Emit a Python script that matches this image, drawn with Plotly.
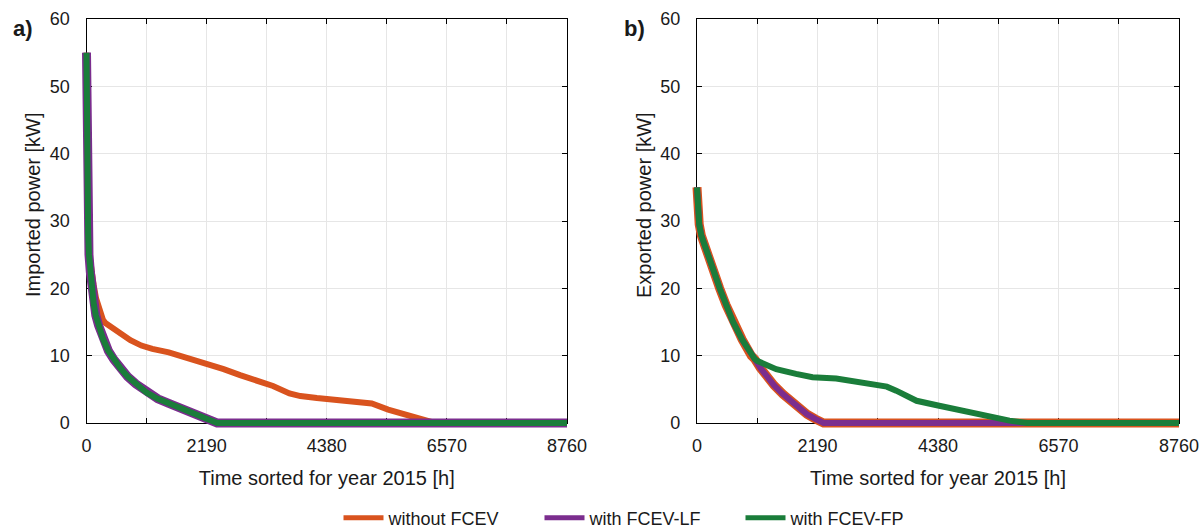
import plotly.graph_objects as go

# ---------------- data ----------------
hours_imp_without = [0, 5, 12, 20, 30, 45, 65, 95, 130, 175, 230, 300, 350, 450, 600, 800,
                     1000, 1200, 1500, 1800, 2190, 2500, 2800, 3100, 3400, 3700, 3900, 4200,
                     4600, 5000, 5200, 5500, 5900, 6200, 6350, 8760]
imp_without = [55, 45, 38, 32, 28, 25.5, 23.8, 22.2, 20.5, 18.5, 16.8, 15.3, 14.8, 14.2, 13.4, 12.3,
               11.5, 11.0, 10.5, 9.8, 8.8, 8.0, 7.1, 6.4, 5.5, 4.4, 4.0, 3.7,
               3.3, 3.1, 2.9, 2.0, 1.0, 0.3, 0, 0]

hours_imp_fcev = [0, 5, 12, 20, 30, 45, 70, 100, 130, 170, 220, 300, 400, 500, 620, 750,
                  900, 1100, 1300, 1500, 1700, 1900, 2100, 2250, 2380, 8760]
imp_lf = [55, 45, 38, 32, 28, 25, 22.4, 20, 17.8, 16, 14.5, 12.5, 10.7, 9.4, 8.1, 6.9,
          5.8, 4.5, 3.6, 2.9, 2.2, 1.6, 1.0, 0.5, 0, 0]
imp_fp = [55, 45, 38, 32, 28, 25, 22.4, 20, 17.8, 16, 14.5, 12.5, 10.7, 9.4, 8.1, 6.9,
          5.8, 4.5, 3.6, 2.9, 2.2, 1.6, 1.0, 0.5, 0, 0]

hours_exp_base = [0, 15, 40, 80, 150, 290, 412, 530, 655, 820, 988, 1050, 1150, 1260, 1400,
                  1560, 1720, 1870, 2000, 2150, 2300, 8760]
exp_without = [35, 32, 29.5, 27.8, 26, 22.9, 20, 17.5, 15, 12.4, 10, 9.5, 8.2, 7.0, 5.6,
               4.3, 3.1, 2.1, 1.3, 0.6, 0, 0]
exp_lf = [35, 32, 29.5, 27.8, 26, 22.9, 20, 17.5, 15, 12.4, 10, 9.5, 8.2, 7.0, 5.6,
          4.3, 3.1, 2.1, 1.3, 0.6, 0, 0]

hours_exp_fp = [0, 15, 40, 80, 150, 290, 412, 530, 655, 820, 988, 1050, 1100, 1300, 1440,
                1800, 2100, 2530, 2800, 3020, 3290, 3450, 3620, 3800, 3990, 4380, 4900,
                5320, 5680, 6000, 8760]
exp_fp = [35, 32, 29.5, 27.8, 26, 22.9, 20, 17.5, 15, 12.4, 10, 9.5, 9.2, 8.5, 8.0,
          7.3, 6.8, 6.6, 6.3, 6.0, 5.8, 5.4, 4.8, 4.0, 3.3, 2.6, 1.7,
          0.85, 0.35, 0, 0]

series_names = ["without FCEV", "with FCEV-LF", "with FCEV-FP"]
x_tickvals = [0, 1095, 2190, 3285, 4380, 5475, 6570, 7665, 8760]
x_ticktext = ["0", "", "2190", "", "4380", "", "6570", "", "8760"]
y_tickvals = [0, 10, 20, 30, 40, 50, 60]
y_titles = ["Imported power [kW]", "Exported power [kW]"]
panel_labels = ["a)", "b)"]

# ---------------- styling / geometry ----------------
W, H = 1201, 530
COL = {"without FCEV": "#D9531E", "with FCEV-LF": "#7B2D8E", "with FCEV-FP": "#1A7D3A"}
FONT = "Liberation Sans, Arial, sans-serif"
TXT = "#1a1a1a"
FS_TICK = 18
FS_TITLE = 20
FS_LEG = 18

PANELS = [(86.5, 567.0), (697.0, 1179.0)]
TOP, BOT = 19.0, 423.0
EXT = 8.0  # extra pixels so thick lines are not clipped at the axes
YTITLE_X = [33.0, 644.0]
YTITLE_Y = 205.0
LABEL_POS = [(22.5, 29.0), (634.0, 29.0)]

XMAX, YMAX = 8760, 60


def px_x(p):
    return p / W


def px_y(p):
    return 1 - p / H


fig = go.Figure()

axis_common = dict(
    showline=True, linecolor="black", linewidth=1.3, mirror="allticks",
    ticks="inside", ticklen=5, tickcolor="black", tickwidth=1.3,
    showgrid=True, gridcolor="#E6E6E6", gridwidth=1, zeroline=False,
    tickfont=dict(family=FONT, size=FS_TICK, color=TXT),
    fixedrange=True, automargin=False,
)

for i, (xl, xr) in enumerate(PANELS):
    sfx = "" if i == 0 else "2"
    fig.layout["xaxis" + sfx] = dict(
        axis_common, domain=[px_x(xl), px_x(xr)], range=[0, XMAX],
        tickmode="array", tickvals=x_tickvals, ticktext=x_ticktext,
        anchor="y" + sfx, ticklabelstandoff=6,
        title=dict(text="Time sorted for year 2015 [h]",
                   font=dict(family=FONT, size=FS_TITLE, color=TXT), standoff=16),
    )
    fig.layout["yaxis" + sfx] = dict(
        axis_common, domain=[px_y(BOT), px_y(TOP)], range=[0, YMAX],
        tickmode="array", tickvals=y_tickvals,
        anchor="x" + sfx, ticklabelstandoff=12,
    )
    # hidden data axes, with slightly larger domain so the thick lines are not clipped
    dsfx = "3" if i == 0 else "4"
    xspan = xr - xl
    yspan = BOT - TOP
    fig.layout["xaxis" + dsfx] = dict(
        domain=[px_x(xl - EXT), px_x(xr)], range=[-EXT * XMAX / xspan, XMAX],
        visible=False, anchor="y" + dsfx, fixedrange=True, automargin=False,
    )
    fig.layout["yaxis" + dsfx] = dict(
        domain=[px_y(BOT + EXT), px_y(TOP)], range=[-EXT * YMAX / yspan, YMAX],
        visible=False, anchor="x" + dsfx, fixedrange=True, automargin=False,
    )
    fig.add_annotation(text=y_titles[i], xref="paper", yref="paper",
                       x=px_x(YTITLE_X[i]), y=px_y(YTITLE_Y), xanchor="center", yanchor="middle",
                       textangle=-90, showarrow=False,
                       font=dict(family=FONT, size=FS_TITLE, color=TXT))
    lx, ly = LABEL_POS[i]
    fig.add_annotation(text="<b>" + panel_labels[i] + "</b>", xref="paper", yref="paper",
                       x=px_x(lx), y=px_y(ly), xanchor="center", yanchor="middle",
                       showarrow=False, font=dict(family=FONT, size=22, color=TXT))

# anchor traces to make main subplots exist
fig.add_trace(go.Scatter(x=[None], y=[None], xaxis="x", yaxis="y", showlegend=False, hoverinfo="skip"))
fig.add_trace(go.Scatter(x=[None], y=[None], xaxis="x2", yaxis="y2", showlegend=False, hoverinfo="skip"))

# panel a) imported
left_series = [
    ("without FCEV", hours_imp_without, imp_without, 6),
    ("with FCEV-LF", hours_imp_fcev, imp_lf, 9),
    ("with FCEV-FP", hours_imp_fcev, imp_fp, 6),
]
for name, xs, ys, w in left_series:
    fig.add_trace(go.Scatter(x=xs, y=ys, mode="lines", name=name, xaxis="x3", yaxis="y3",
                             line=dict(color=COL[name], width=w), showlegend=False))

# panel b) exported
right_series = [
    ("without FCEV", hours_exp_base, exp_without, 9),
    ("with FCEV-LF", hours_exp_base, exp_lf, 6),
    ("with FCEV-FP", hours_exp_fp, exp_fp, 6),
]
for name, xs, ys, w in right_series:
    fig.add_trace(go.Scatter(x=xs, y=ys, mode="lines", name=name, xaxis="x4", yaxis="y4",
                             line=dict(color=COL[name], width=w), showlegend=False))

# legend entries
for name in series_names:
    fig.add_trace(go.Scatter(x=[None], y=[None], mode="lines", name=name, xaxis="x3", yaxis="y3",
                             line=dict(color=COL[name], width=5), showlegend=True))

fig.update_layout(
    template="none",
    width=W, height=H,
    margin=dict(l=0, r=0, t=0, b=0, autoexpand=False),
    paper_bgcolor="white", plot_bgcolor="rgba(0,0,0,0)",
    font=dict(family=FONT, size=FS_TICK, color=TXT),
    legend=dict(orientation="h", x=px_x(640), xanchor="center", y=px_y(518), yanchor="middle",
                font=dict(family=FONT, size=FS_LEG, color=TXT), bgcolor="rgba(0,0,0,0)",
                itemwidth=40, entrywidth=146, tracegroupgap=0),
    showlegend=True,
)

fig.write_html("out.html")
